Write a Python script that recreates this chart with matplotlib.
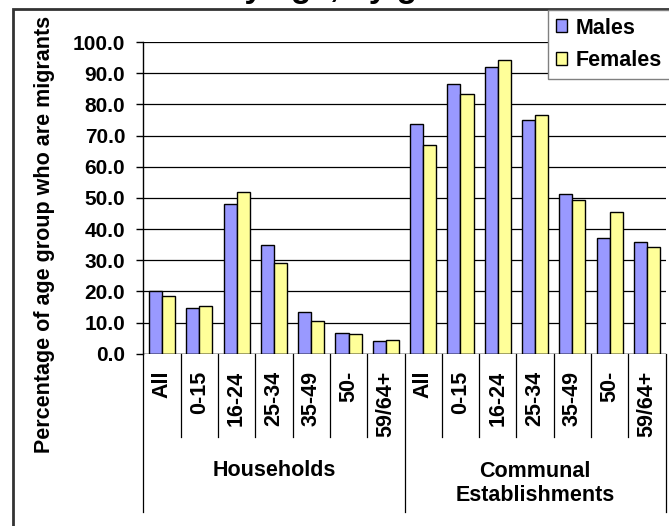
import matplotlib
matplotlib.use("Agg")
import matplotlib.pyplot as plt
from matplotlib.patches import Patch, Rectangle
from matplotlib.transforms import blended_transform_factory
import numpy as np

# -------------------------- Data --------------------------
age_groups = ["All", "0-15", "16-24", "25-34", "35-49", "50-", "59/64+"]
groups = ["Households", "Communal\nEstablishments"]

males_households = [20.0, 14.8, 47.9, 34.8, 13.5, 6.5, 4.0]
females_households = [18.6, 15.3, 51.8, 29.2, 10.4, 6.2, 4.4]
males_communal = [73.6, 86.4, 92.0, 75.0, 51.3, 37.1, 35.8]
females_communal = [67.0, 83.3, 94.2, 76.7, 49.2, 45.3, 34.1]

y_ticks = [0, 10, 20, 30, 40, 50, 60, 70, 80, 90, 100]

# -------------------------- Style --------------------------
W, H = 669, 526
FONT = "Liberation Sans"
FS = 15.5
FS_TICK = 15
MALE_COLOR = "#9999FF"
FEMALE_COLOR = "#FFFF99"

plt.rcParams["font.family"] = [FONT, "DejaVu Sans"]
plt.rcParams["font.weight"] = "bold"

fig = plt.figure(figsize=(W / 100, H / 100), dpi=100)
ax = fig.add_axes([143.3 / W, 1 - 353.7 / H, (665.7 - 143.3) / W, (353.7 - 42) / H])

males = males_households + males_communal
females = females_households + females_communal
labels = age_groups + age_groups
x = np.arange(len(labels))
bw = 0.35

ax.bar(x - bw / 2, males, bw, color=MALE_COLOR, edgecolor="black", linewidth=1, zorder=3)
ax.bar(x + bw / 2, females, bw, color=FEMALE_COLOR, edgecolor="black", linewidth=1, zorder=3)

ax.set_xlim(-0.5, len(labels) - 0.5)
ax.set_ylim(0, 100)
ax.set_yticks(y_ticks)
ax.set_yticklabels([f"{v:.1f}" for v in y_ticks], fontsize=FS_TICK, fontweight="bold")
ax.tick_params(axis="y", length=5, width=1, pad=8, direction="out")
ax.set_xticks([])
ax.yaxis.grid(True, color="black", linewidth=0.9, zorder=0)
for side in ["top", "right", "bottom"]:
    ax.spines[side].set_visible(False)
ax.spines["left"].set_linewidth(1)
ax.axhline(0, color="black", linewidth=1, zorder=4)

# category labels and separators below the axis
tr = blended_transform_factory(ax.transData, ax.transAxes)
ax_h = 353.7 - 42
y_lab = -(371 - 353.7) / ax_h
y_inner = -(437 - 353.7) / ax_h
y_outer = -(512 - 353.7) / ax_h
for i, lab in enumerate(labels):
    ax.text(i, y_lab, lab, rotation=90, ha="center", va="top", transform=tr,
            fontsize=FS, fontweight="bold")
for i in range(len(labels) + 1):
    xs = i - 0.5
    bottom = y_outer if i in (0, 7, 14) else y_inner
    ax.plot([xs, xs], [0, bottom], color="black", linewidth=0.9, transform=tr, clip_on=False)
ax.text(3, -(470 - 353.7) / ax_h, groups[0], ha="center", va="center", transform=tr,
        fontsize=FS, fontweight="bold")
ax.text(10, -(483.5 - 353.7) / ax_h, groups[1], ha="center", va="center", transform=tr,
        fontsize=FS, fontweight="bold", linespacing=1.2)

# y label
fig.text(45 / W, 1 - 234 / H, "Percentage of age group who are migrants", rotation=90,
         ha="center", va="center", fontsize=FS, fontweight="bold")

# title: only the descenders of its last line show at the top edge in the source
fig.text(224 / W, 1 + 3 / H, "by age, by gender", ha="left", va="baseline",
         fontsize=24, fontweight="bold")

# outer chart border
fig.patches.append(Rectangle((13 / W, -0.1), 1.0, 1.1 - 8.5 / H, fill=False,
                             edgecolor="#333333", linewidth=2, transform=fig.transFigure))

# legend
handles = [Patch(facecolor=MALE_COLOR, edgecolor="black", label="Males"),
           Patch(facecolor=FEMALE_COLOR, edgecolor="black", label="Females")]
leg = fig.legend(handles=handles, loc="upper left", bbox_to_anchor=(548 / W, 1 - 10 / H),
                 frameon=True, fancybox=False, edgecolor="#808080", framealpha=1,
                 prop={"family": FONT, "weight": "bold", "size": FS},
                 handlelength=0.55, handleheight=0.55, handletextpad=0.4,
                 borderpad=0.35, labelspacing=0.55, borderaxespad=0)
leg.get_frame().set_linewidth(1)

fig.savefig("out.png", dpi=100)
